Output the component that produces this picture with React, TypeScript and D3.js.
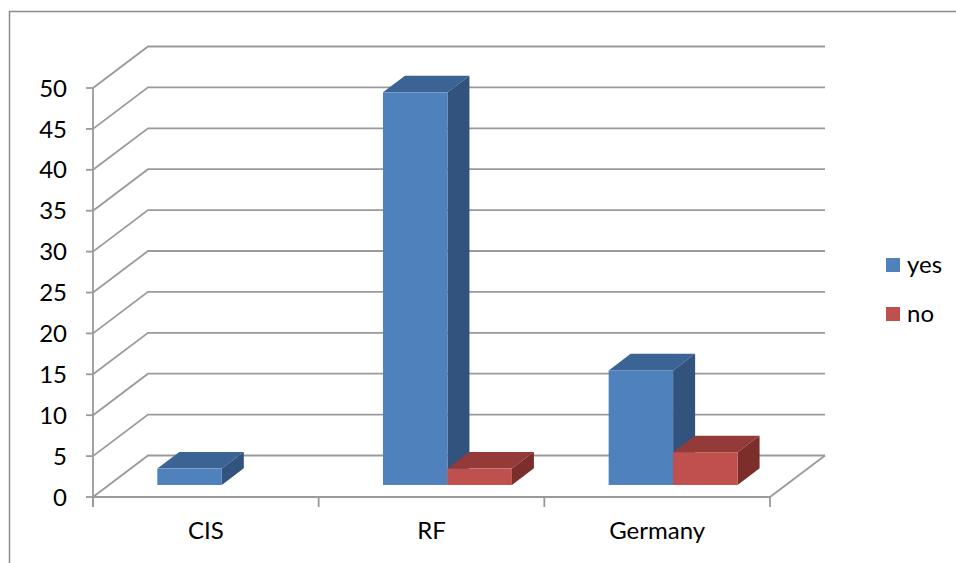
import React from "react";
import * as d3 from "d3";

// Data
const categories = ["CIS", "RF", "Germany"];
const seriesNames = ["yes", "no"];
const yesValues = [2, 48, 14];
const noValues = [0, 2, 4];
const yTicks = [0, 5, 10, 15, 20, 25, 30, 35, 40, 45, 50];

const W = 956;
const H = 563;

// Front plane of the 3D plot, and the oblique depth offset to the back wall
const frontLeft = 93;
const frontRight = 770;
const baseY = 497;
const topY = 88;
const depthX = 55;
const depthY = -41.5;
// Bars occupy this slice of the floor depth
const barDepthStart = 0.29;
const barDepthEnd = 0.69;

const faceColors: Record<string, { front: string; top: string; side: string }> = {
  yes: { front: "#4F81BD", top: "#3B6394", side: "#31537D" },
  no: { front: "#C0504D", top: "#943B39", side: "#7B2E2C" },
};

const gridColor = "#9A9A9A";
const font = "Lato, 'Open Sans', sans-serif";
const fontSize = 24;

export default function App() {
  const y = d3.scaleLinear().domain([0, 50]).range([baseY, topY]);
  const x0 = d3
    .scaleBand<string>()
    .domain(categories)
    .range([frontLeft, frontRight])
    .paddingInner(1.5 / 3.5)
    .paddingOuter(0.75 / 3.5);
  const x1 = d3
    .scaleBand<string>()
    .domain(seriesNames)
    .range([0, x0.bandwidth()]);

  const values: Record<string, number[]> = { yes: yesValues, no: noValues };

  const fx = barDepthStart * depthX;
  const fy = barDepthStart * depthY;
  const bx = (barDepthEnd - barDepthStart) * depthX;
  const by = (barDepthEnd - barDepthStart) * depthY;

  const pts = (p: [number, number][]) => p.map((q) => q.join(",")).join(" ");

  const bars: React.ReactNode[] = [];
  categories.forEach((cat, ci) => {
    seriesNames.forEach((s) => {
      const v = values[s][ci];
      if (v <= 0) return;
      const xl = (x0(cat) as number) + (x1(s) as number) + fx;
      const xr = xl + x1.bandwidth();
      const yb = baseY + fy;
      const yt = y(v) + fy;
      const c = faceColors[s];
      bars.push(
        <g key={`${cat}-${s}`}>
          <polygon
            points={pts([
              [xl, yt],
              [xr, yt],
              [xr + bx, yt + by],
              [xl + bx, yt + by],
            ])}
            fill={c.top}
          />
          <polygon
            points={pts([
              [xr, yt],
              [xr + bx, yt + by],
              [xr + bx, yb + by],
              [xr, yb],
            ])}
            fill={c.side}
          />
          <rect x={xl} y={yt} width={xr - xl} height={yb - yt} fill={c.front} />
        </g>
      );
    });
  });

  return (
    <svg
      width={W}
      height={H}
      style={{ position: "absolute", left: 0, top: 0, background: "#fff" }}
      fontFamily={font}
    >
      <rect x={9.5} y={11.5} width={W} height={H} fill="none" stroke="#8C8C8C" strokeWidth={1.5} />

      {/* gridlines: left wall diagonal + back wall */}
      {yTicks.map((t) => (
        <polyline
          key={`g${t}`}
          points={pts([
            [frontLeft, y(t)],
            [frontLeft + depthX, y(t) + depthY],
            [frontRight + depthX, y(t) + depthY],
          ])}
          fill="none"
          stroke={gridColor}
          strokeWidth={1.8}
        />
      ))}
      {/* floor right edge */}
      <line
        x1={frontRight}
        y1={baseY}
        x2={frontRight + depthX}
        y2={baseY + depthY}
        stroke={gridColor}
        strokeWidth={1.8}
      />

      {bars}

      {/* value axis */}
      <line x1={frontLeft} y1={y(50)} x2={frontLeft} y2={baseY + 10} stroke={gridColor} strokeWidth={1.8} />
      {yTicks.map((t) => (
        <g key={`t${t}`}>
          <line x1={frontLeft - 7} y1={y(t)} x2={frontLeft} y2={y(t)} stroke={gridColor} strokeWidth={1.8} />
          <text x={67} y={y(t)} dy="0.36em" textAnchor="end" fontSize={fontSize} fill="#000">
            {t}
          </text>
        </g>
      ))}

      {/* category axis */}
      <line x1={frontLeft} y1={baseY} x2={frontRight} y2={baseY} stroke={gridColor} strokeWidth={1.8} />
      {[...categories.map((c) => (x0(c) as number) - x0.step() * (0.75 / 3.5)), frontRight].map((xv, i) => (
        <line key={`ct${i}`} x1={xv} y1={baseY} x2={xv} y2={baseY + 10} stroke={gridColor} strokeWidth={1.8} />
      ))}
      {categories.map((c) => (
        <text
          key={`cl${c}`}
          x={(x0(c) as number) + x0.bandwidth() / 2}
          y={539}
          textAnchor="middle"
          fontSize={fontSize}
          fill="#000"
        >
          {c}
        </text>
      ))}

      {/* legend */}
      {seriesNames.map((s, i) => (
        <g key={`lg${s}`} transform={`translate(886, ${258 + i * 49})`}>
          <rect x={0} y={0} width={14} height={14} fill={faceColors[s].front} />
          <text x={21} y={15} fontSize={fontSize} fill="#000">
            {s}
          </text>
        </g>
      ))}
    </svg>
  );
}
